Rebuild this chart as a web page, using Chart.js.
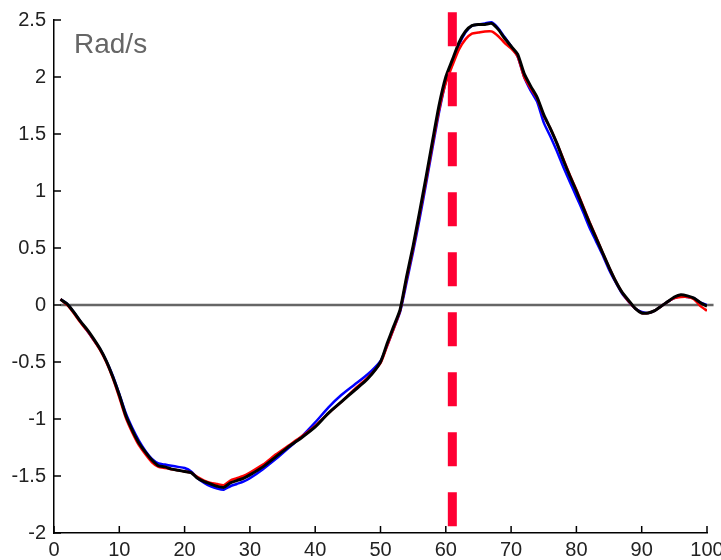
<!DOCTYPE html>
<html>
<head>
<meta charset="utf-8">
<script src="https://cdn.jsdelivr.net/npm/chart.js@4/dist/chart.umd.min.js"></script>
<style>
  html, body { margin: 0; padding: 0; background: #fff; }
  #wrap { width: 721px; height: 560px; }
</style>
</head>
<body>
<div id="wrap"><canvas id="c" width="721" height="560"></canvas></div>
<script>
// Percent of cycle
const pct = [
  1,2,3,4,5,6,7,8,9,10,11,12,13,14,15,16,17,18,19,20,
  21,22,23,24,25,26,27,28,29,30,32,34,36,38,40,42,44,46,48,50,
  51,52,53,54,55,56,57,58,59,60,61,62,63,64,65,66,67,68,69,70,
  71,72,73,74,75,76,77,78,79,80,81,82,83,84,85,86,87,88,89,90,
  91,92,93,94,95,96,97,98,99,100
];

// Angular velocity (rad/s), three trials
const velBlack = [
  0.05,0.01,-0.06,-0.14,-0.21,-0.29,-0.38,-0.49,-0.63,-0.79,-0.97,-1.10,-1.21,-1.29,-1.36,-1.41,-1.42,-1.44,-1.45,-1.46,
  -1.47,-1.52,-1.55,-1.57,-1.59,-1.60,-1.56,-1.54,-1.52,-1.49,-1.42,-1.33,-1.24,-1.16,-1.07,-0.95,-0.85,-0.75,-0.65,-0.50,
  -0.34,-0.19,-0.04,0.25,0.52,0.82,1.13,1.45,1.76,2.00,2.15,2.30,2.40,2.45,2.46,2.46,2.47,2.42,2.34,2.27,
  2.20,2.03,1.92,1.82,1.67,1.55,1.42,1.27,1.13,1.00,0.86,0.72,0.59,0.46,0.33,0.21,0.11,0.04,-0.03,-0.07,
  -0.07,-0.05,-0.01,0.03,0.07,0.09,0.08,0.06,0.02,-0.01
];
const velRed = [
  0.05,0.00,-0.07,-0.15,-0.22,-0.30,-0.39,-0.50,-0.64,-0.81,-0.99,-1.12,-1.23,-1.31,-1.38,-1.42,-1.43,-1.44,-1.45,-1.46,
  -1.47,-1.51,-1.54,-1.56,-1.57,-1.58,-1.54,-1.52,-1.50,-1.47,-1.40,-1.31,-1.23,-1.15,-1.06,-0.95,-0.85,-0.74,-0.64,-0.51,
  -0.36,-0.21,-0.05,0.23,0.50,0.80,1.10,1.42,1.72,1.95,2.10,2.24,2.33,2.38,2.39,2.40,2.40,2.36,2.30,2.25,
  2.18,2.00,1.90,1.81,1.66,1.55,1.42,1.28,1.14,1.01,0.87,0.73,0.60,0.46,0.33,0.21,0.11,0.03,-0.03,-0.07,
  -0.07,-0.05,-0.01,0.03,0.06,0.07,0.07,0.05,-0.01,-0.05
];
const velBlue = [
  0.05,0.01,-0.06,-0.14,-0.22,-0.30,-0.38,-0.49,-0.62,-0.78,-0.95,-1.08,-1.19,-1.28,-1.35,-1.39,-1.40,-1.41,-1.42,-1.43,
  -1.46,-1.52,-1.56,-1.59,-1.61,-1.62,-1.59,-1.57,-1.55,-1.52,-1.44,-1.35,-1.25,-1.15,-1.03,-0.90,-0.79,-0.70,-0.61,-0.49,
  -0.36,-0.21,-0.06,0.20,0.47,0.76,1.07,1.39,1.70,1.96,2.12,2.28,2.39,2.45,2.46,2.47,2.48,2.43,2.35,2.27,
  2.18,2.00,1.88,1.78,1.60,1.48,1.35,1.21,1.08,0.95,0.82,0.68,0.56,0.44,0.31,0.20,0.10,0.03,-0.03,-0.06,
  -0.07,-0.05,-0.01,0.03,0.06,0.08,0.07,0.06,0.02,0.00
];

// Event marker and reference line
const markerPct = 61;
const markerSpan = [2.567, -1.97];
const zeroSpan = [1, 101];

// Axis ticks
const xTicks = [0,10,20,30,40,50,60,70,80,90,100];
const yTicks = [-2,-1.5,-1,-0.5,0,0.5,1,1.5,2,2.5];

const FONT = '"Liberation Sans", Arial, sans-serif';
const TICK_FONT = '"Liberation Sans Narrow", "Arial Narrow", "Liberation Sans", sans-serif';

const toPts = (xs, ys) => xs.map((x, i) => ({ x: x, y: ys[i] }));

// Inward-pointing tick marks and the unit label
const decorPlugin = {
  id: 'decor',
  afterDraw(chart) {
    const ctx = chart.ctx;
    const xs = chart.scales.x, ys = chart.scales.y;
    const len = 7;
    ctx.save();
    ctx.strokeStyle = '#000';
    ctx.lineWidth = 1.5;
    ctx.beginPath();
    xTicks.forEach(v => {
      const px = xs.getPixelForValue(v);
      ctx.moveTo(px, ys.bottom);
      ctx.lineTo(px, ys.bottom - len);
    });
    yTicks.forEach(v => {
      const py = ys.getPixelForValue(v);
      ctx.moveTo(xs.left, py);
      ctx.lineTo(xs.left + len, py);
    });
    ctx.stroke();

    ctx.fillStyle = '#666666';
    ctx.font = '28px ' + FONT;
    ctx.textAlign = 'left';
    ctx.textBaseline = 'alphabetic';
    ctx.fillText('Rad/s', chart.chartArea.left + 20, chart.chartArea.top + 33);
    ctx.restore();
  }
};

new Chart(document.getElementById('c'), {
  type: 'line',
  data: {
    datasets: [
      {
        data: [{ x: markerPct, y: markerSpan[0] }, { x: markerPct, y: markerSpan[1] }],
        borderColor: '#ff0033',
        borderWidth: 9,
        borderDash: [34, 26],
        borderCapStyle: 'butt',
        pointRadius: 0,
        clip: false
      },
      {
        data: toPts(pct, velBlack),
        borderColor: '#000000',
        borderWidth: 3,
        pointRadius: 0,
        tension: 0.2
      },
      {
        data: toPts(pct, velRed),
        borderColor: '#ff0000',
        borderWidth: 2.5,
        pointRadius: 0,
        tension: 0.2
      },
      {
        data: toPts(pct, velBlue),
        borderColor: '#0000ff',
        borderWidth: 2.5,
        pointRadius: 0,
        tension: 0.2
      },
      {
        data: [{ x: zeroSpan[0], y: 0 }, { x: zeroSpan[1], y: 0 }],
        borderColor: '#666666',
        borderWidth: 2.5,
        pointRadius: 0,
        clip: false
      }
    ]
  },
  options: {
    responsive: false,
    animation: false,
    devicePixelRatio: 1,
    layout: { padding: { left: 0, top: 20, right: 14, bottom: 0 } },
    plugins: { legend: { display: false }, tooltip: { enabled: false } },
    events: [],
    scales: {
      x: {
        type: 'linear',
        min: 0,
        max: 100,
        afterBuildTicks(s) { s.ticks = xTicks.map(v => ({ value: v })); },
        afterFit(s) { s.height = 27; s.paddingLeft = 0; s.paddingRight = 0; },
        grid: { display: false, drawTicks: false },
        border: { display: true, color: '#000', width: 1.5 },
        ticks: {
          padding: 5,
          color: '#222',
          font: { family: TICK_FONT, size: 20 },
          maxRotation: 0,
          autoSkip: false
        }
      },
      y: {
        type: 'linear',
        min: -2,
        max: 2.5,
        afterBuildTicks(s) { s.ticks = yTicks.map(v => ({ value: v })); },
        afterFit(s) { s.width = 54; s.paddingTop = 0; s.paddingBottom = 0; },
        grid: { display: false, drawTicks: false },
        border: { display: true, color: '#000', width: 1.5 },
        ticks: {
          padding: 8,
          color: '#222',
          font: { family: TICK_FONT, size: 20 },
          autoSkip: false,
          callback: v => String(v)
        }
      }
    }
  },
  plugins: [decorPlugin]
});
</script>
</body>
</html>
